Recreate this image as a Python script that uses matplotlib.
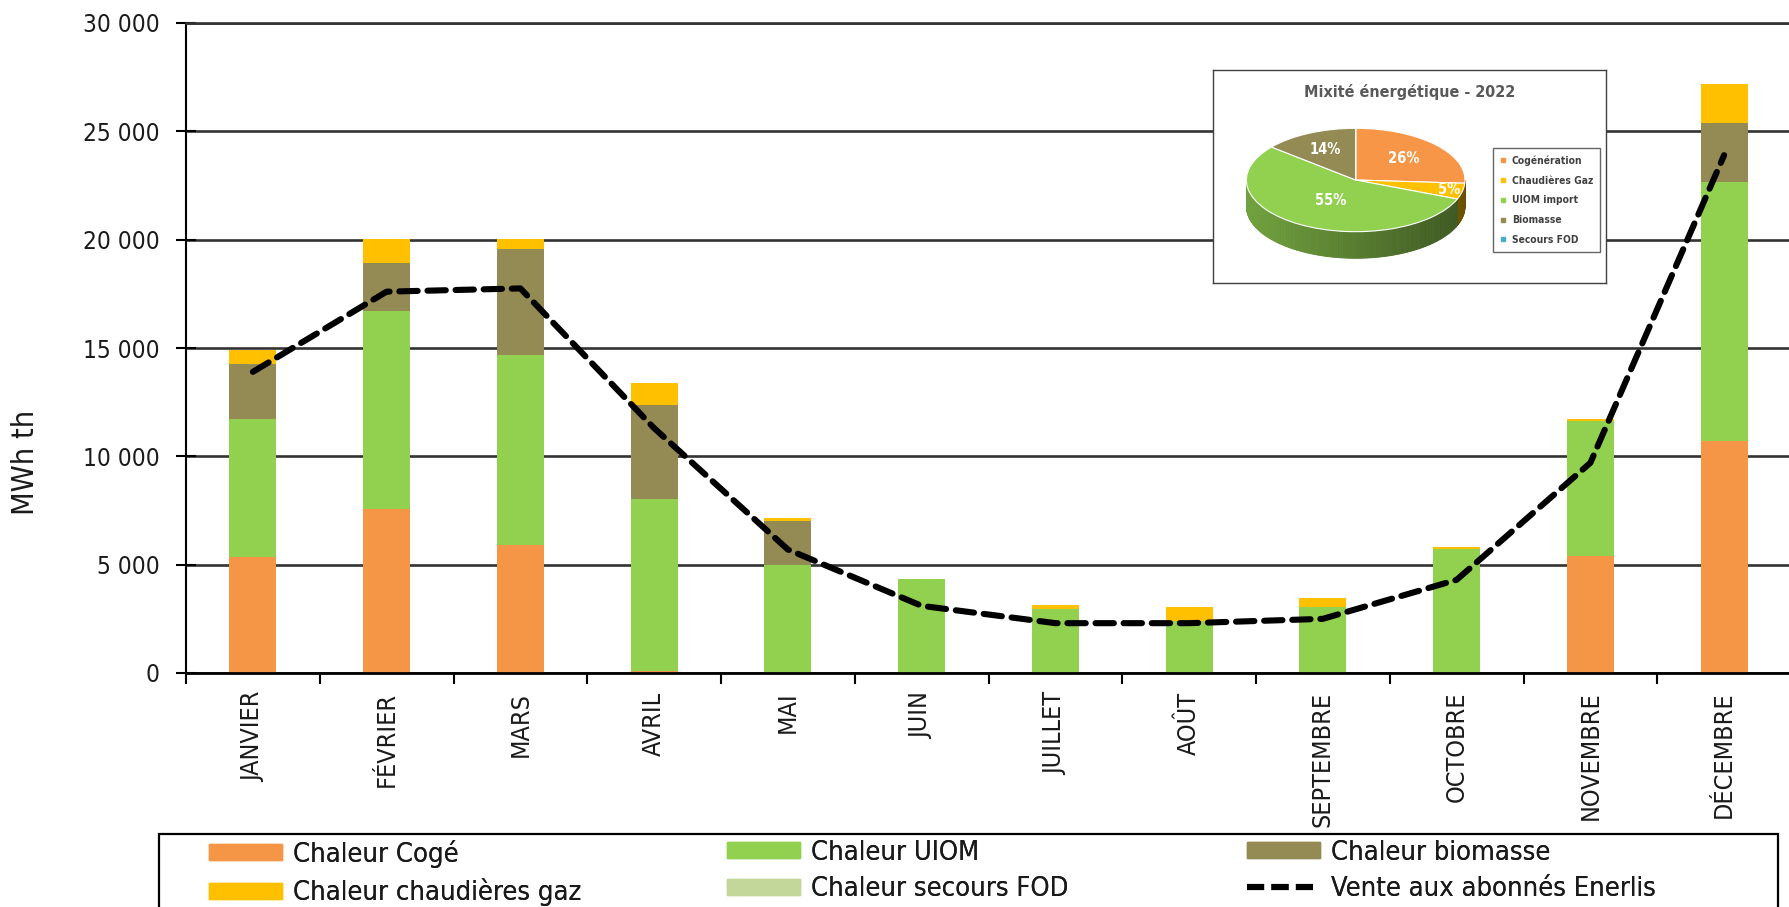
import numpy as np
import matplotlib
matplotlib.use('Agg')
import matplotlib.pyplot as plt
from matplotlib import font_manager
from matplotlib.patches import Patch, Rectangle
from matplotlib.lines import Line2D
from matplotlib.ticker import FuncFormatter
import matplotlib.colors as mcolors

# condensed DejaVu if the extra files are there
have_cond = any(f.name == 'DejaVu Sans' and f.stretch == 'condensed'
                for f in font_manager.fontManager.ttflist)
plt.rcParams['font.family'] = ['DejaVu Sans']
if have_cond:
    plt.rcParams['font.stretch'] = 'condensed'
k = 1.0 if have_cond else 0.9

# data (MWh th)
mois = ['JANVIER', 'FÉVRIER', 'MARS', 'AVRIL', 'MAI', 'JUIN', 'JUILLET',
        'AOÛT', 'SEPTEMBRE', 'OCTOBRE', 'NOVEMBRE', 'DÉCEMBRE']
coge = [5350, 7570, 5900, 100, 0, 0, 0, 0, 0, 0, 5420, 10700]
uiom = [6360, 9140, 8800, 7950, 4980, 4340, 2940, 2380, 3030, 5720, 6190, 11940]
biomasse = [2550, 2200, 4860, 4310, 2050, 0, 0, 0, 0, 0, 0, 2735]
gaz = [650, 1120, 460, 1020, 110, 0, 200, 660, 445, 75, 95, 1795]
fod = [0, 0, 0, 0, 0, 0, 0, 0, 0, 0, 0, 0]
vente = [13900, 17600, 17750, 11300, 5700, 3100, 2300, 2300, 2500, 4300, 9700, 23900]

mix_labels = ['Cogénération', 'Chaudières Gaz', 'UIOM import', 'Biomasse', 'Secours FOD']
mix_vals = [26, 5, 55, 14, 0]

c_coge = '#F59646'
c_uiom = '#92D050'
c_bio = '#948A54'
c_gaz = '#FFC000'
c_fod = '#C4D79B'
mix_colors = ['#F79646', '#FFC000', '#92D050', '#948A54', '#4BACC6']

W, H = 1789, 907
fig = plt.figure(figsize=(W / 100, H / 100), dpi=100)
fig.patch.set_facecolor('white')

# main axes, right side runs off the picture like the original
x0, ytop, ybot = 186, 23, 673
ax = fig.add_axes([x0 / W, 1 - ybot / H, (W - x0 + 2) / W, (ybot - ytop) / H])
step = 133.9
ax.set_xlim(-0.5, -0.5 + (W - x0 + 2) / step)
ax.set_ylim(0, 30000)

x = np.arange(len(mois))
bw = 0.35
bottom = np.zeros(len(mois))
for vals, col in [(coge, c_coge), (uiom, c_uiom), (biomasse, c_bio), (gaz, c_gaz), (fod, c_fod)]:
    ax.bar(x, vals, bw, bottom=bottom, color=col, zorder=2, linewidth=0)
    bottom += np.array(vals)

ax.plot(x, vente, color='black', lw=4.4, linestyle=(0, (3.0, 1.6)),
        dash_capstyle='round', solid_joinstyle='round', zorder=4)

# axes styling
ax.set_yticks(np.arange(0, 30001, 5000))
ax.yaxis.set_major_formatter(FuncFormatter(lambda v, p: f'{v:,.0f}'.replace(',', ' ')))
ax.grid(axis='y', color='#333333', lw=1.9, zorder=1)
ax.set_axisbelow(True)
ax.spines['right'].set_visible(False)
ax.spines['top'].set_color('#333333')
ax.spines['top'].set_linewidth(1.9)
ax.spines['left'].set_linewidth(1.5)
ax.spines['bottom'].set_linewidth(2)
ax.tick_params(axis='y', direction='inout', length=14, width=1.5, pad=12,
               labelsize=17.5 * k, labelcolor='#1a1a1a')
ax.set_xticks(x)
ax.set_xticklabels(mois, rotation=90, fontsize=18 * k, color='#1a1a1a')
ax.tick_params(axis='x', which='major', length=0, pad=13.5)
ax.set_xticks(np.arange(-0.5, 11.6, 1), minor=True)
ax.tick_params(axis='x', which='minor', direction='out', length=8, width=1.5)
ax.set_ylabel('MWh th', fontsize=22 * k, color='#1a1a1a')
ax.yaxis.set_label_coords(-(x0 - 40) / (W - x0 + 2), (ybot - 462) / (ybot - ytop))

# legend at the bottom, frame cut by the picture edge; one legend per column
fig.add_artist(Rectangle((159 / W, -0.05), (1778 - 159) / W, 1 - 834 / H + 0.05,
                         transform=fig.transFigure, fill=False, edgecolor='black', lw=1.6))
leg_cols = [
    ([Patch(color=c_coge), Patch(color=c_gaz)],
     ['Chaleur Cogé', 'Chaleur chaudières gaz'], 195),
    ([Patch(color=c_uiom), Patch(color=c_fod)],
     ['Chaleur UIOM', 'Chaleur secours FOD'], 713),
    ([Patch(color=c_bio), Line2D([], [], color='black', lw=4.4, linestyle=(0, (2.8, 1.2)))],
     ['Chaleur biomasse', 'Vente aux abonnés Enerlis'], 1233),
]
for hs, ls, px in leg_cols:
    lg = fig.legend(hs, ls, loc='upper left', bbox_to_anchor=(px / W, 1 - 826 / H),
                    frameon=False, fontsize=19.5 * k, handlelength=2.7, handleheight=0.56,
                    handletextpad=0.42, labelspacing=0.4, borderpad=0,
                    labelcolor='#1a1a1a')
    fig.add_artist(lg)

# inset pie "Mixité énergétique"
bx0, by0, bx1, by1 = 1213, 70, 1606, 283
pax = fig.add_axes([bx0 / W, 1 - by1 / H, (bx1 - bx0) / W, (by1 - by0) / H], zorder=5)
pax.set_facecolor('white')
sq = 0.473
r = 109.3
cx, cy = 1355.7 - bx0, (by1 - 180) / sq
depth = 26.6 / sq

wedges, texts, autotexts = pax.pie(
    mix_vals, colors=mix_colors, startangle=90, counterclock=False,
    center=(cx, cy), radius=r, frame=True,
    autopct=lambda p: f'{p:.0f}%' if p > 0.5 else '',
    wedgeprops=dict(edgecolor='white', linewidth=0.8),
    textprops=dict(color='white', fontsize=10.5 * k, fontweight='bold'))
pct_dist = [0.6, 0.88, 0.45, 0.65, 0.6]
for w, t, d in zip(wedges, autotexts, pct_dist):
    a = np.deg2rad((w.theta1 + w.theta2) / 2)
    t.set_position((cx + d * r * np.cos(a), cy + d * r * np.sin(a)))
    t.set_ha('center')
    t.set_va('center')

# side wall of the 3d pie, darker to the right
for w, col in zip(wedges, mix_colors):
    base = np.array(mcolors.to_rgb(col))
    for sh in (-360, 0, 360):
        a0 = max(w.theta1 + sh, -180)
        a1 = min(w.theta2 + sh, 0)
        if a1 <= a0:
            continue
        angs = np.linspace(a0, a1, max(int(a1 - a0), 1) + 1)
        for t0, t1 in zip(angs[:-1], angs[1:]):
            tt = np.deg2rad([t0, t1])
            xe = cx + r * np.cos(tt)
            ye = cy + r * np.sin(tt)
            f = 0.78 - 0.36 * (np.cos(tt.mean()) + 1) / 2
            pax.fill([xe[0], xe[1], xe[1], xe[0]],
                     [ye[0], ye[1], ye[1] - depth, ye[0] - depth],
                     color=np.clip(base * f, 0, 1), lw=0.6, zorder=0.5)

pax.set_aspect('auto')
pax.set_xlim(0, bx1 - bx0)
pax.set_ylim(0, (by1 - by0) / sq)
pax.set_xticks([])
pax.set_yticks([])
for s in pax.spines.values():
    s.set_visible(True)
    s.set_color('#404040')
    s.set_linewidth(1)
pax.text(0.5, (by1 - 92) / (by1 - by0), 'Mixité énergétique - 2022', transform=pax.transAxes,
         ha='center', va='center', fontsize=11.5 * k, fontweight='bold', color='#595959')

mh = [Line2D([], [], marker='s', ls='', color=c, markersize=3.5) for c in mix_colors]
leg2 = fig.legend(mh, mix_labels, loc='upper left', bbox_to_anchor=(1488 / W, 1 - 143 / H),
                  fontsize=7.4 * k, frameon=True, fancybox=False,
                  edgecolor='#404040', handlelength=0.6, handletextpad=0.5,
                  labelspacing=0.95, borderpad=0.7, labelcolor='#404040')
leg2.get_frame().set_linewidth(1)
for t in leg2.get_texts():
    t.set_fontweight('bold')
leg2.set_zorder(6)

fig.savefig('out.png', dpi=100, facecolor='white')
